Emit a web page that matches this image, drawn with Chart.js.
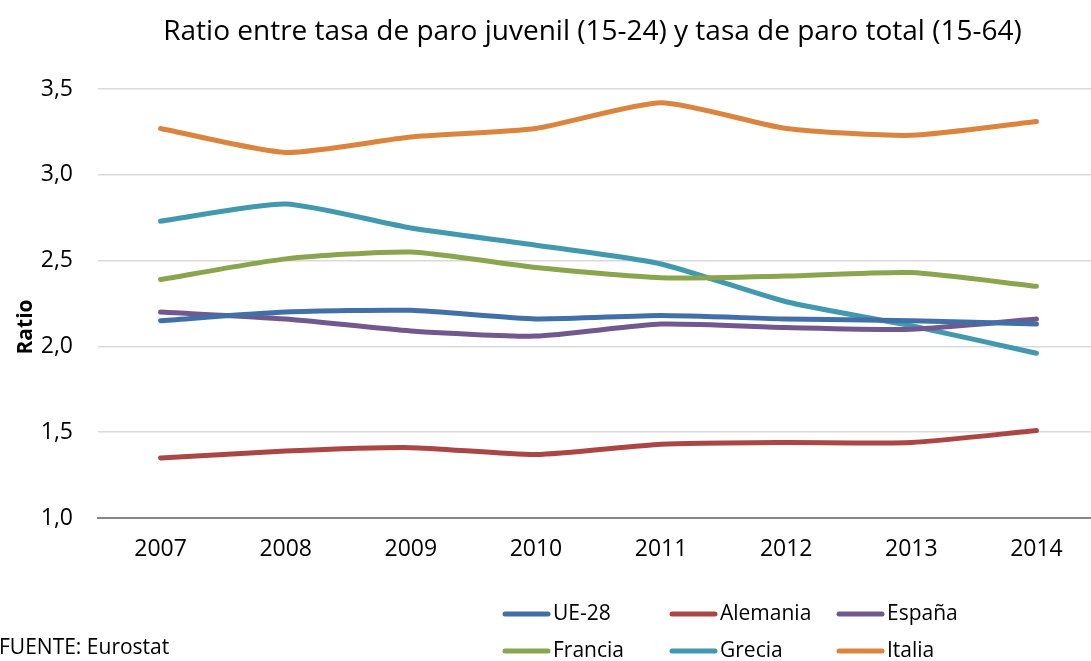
<!DOCTYPE html>
<html>
<head>
<meta charset="utf-8">
<script src="https://cdn.jsdelivr.net/npm/chart.js@4/dist/chart.umd.min.js"></script>
<style>
  html, body { margin: 0; padding: 0; background: #fff; overflow: hidden; }
  #wrap { position: absolute; left: 0; top: 0; width: 1100px; height: 661px; }
</style>
</head>
<body>
<div id="wrap"><canvas id="chart" width="1100" height="661"></canvas></div>
<script>
const years = ['2007', '2008', '2009', '2010', '2011', '2012', '2013', '2014'];
const ue28     = [2.15, 2.20, 2.21, 2.16, 2.18, 2.16, 2.15, 2.13];
const alemania = [1.35, 1.39, 1.41, 1.37, 1.43, 1.44, 1.44, 1.51];
const espana   = [2.20, 2.16, 2.09, 2.06, 2.13, 2.11, 2.10, 2.16];
const francia  = [2.39, 2.51, 2.55, 2.46, 2.40, 2.41, 2.43, 2.35];
const grecia   = [2.73, 2.83, 2.69, 2.59, 2.48, 2.26, 2.12, 1.96];
const italia   = [3.27, 3.13, 3.22, 3.27, 3.42, 3.27, 3.23, 3.31];

const titleText = 'Ratio entre tasa de paro juvenil (15-24) y tasa de paro total (15-64)';
const sourceText = 'FUENTE: Eurostat';
const font = "'Open Sans', sans-serif";

function line(label, data, color) {
    return {
        label: label, data: data, borderColor: color, backgroundColor: color,
        borderWidth: 5, pointRadius: 0, tension: 0.2,
        borderCapStyle: 'round', borderJoinStyle: 'round', fill: false
    };
}

// title, rotated y label, source note and 3-column legend
const extras = {
    id: 'extras',
    afterDraw(chart) {
        const ctx = chart.ctx;
        const area = chart.chartArea;
        ctx.save();
        ctx.fillStyle = '#000';
        ctx.textBaseline = 'middle';

        ctx.font = '28px ' + font;
        ctx.textAlign = 'center';
        ctx.fillText(titleText, (area.left + area.right) / 2 - 6, 32);

        ctx.save();
        ctx.translate(26, 327);
        ctx.rotate(-Math.PI / 2);
        ctx.font = 'bold 21px ' + font;
        ctx.fillText('Ratio', 0, 0);
        ctx.restore();

        ctx.textAlign = 'left';
        ctx.font = '21px ' + font;
        ctx.fillText(sourceText, -1, 648);

        ctx.font = '21px ' + font;
        const cols = [503, 670, 837];
        const rows = [614, 651];
        chart.data.datasets.forEach((ds, i) => {
            const x = cols[i % 3];
            const y = rows[Math.floor(i / 3)];
            ctx.strokeStyle = ds.borderColor;
            ctx.lineWidth = 5;
            ctx.lineCap = 'round';
            ctx.beginPath();
            ctx.moveTo(x + 2, y);
            ctx.lineTo(x + 45, y);
            ctx.stroke();
            ctx.fillText(ds.label, x + 50, y);
        });
        ctx.restore();
    }
};

new Chart(document.getElementById('chart'), {
    type: 'line',
    data: {
        labels: years,
        datasets: [
            line('UE-28', ue28, '#4170a8'),
            line('Alemania', alemania, '#aa4643'),
            line('España', espana, '#71588f'),
            line('Francia', francia, '#89a54e'),
            line('Grecia', grecia, '#4198af'),
            line('Italia', italia, '#db843d')
        ]
    },
    options: {
        responsive: false,
        animation: false,
        layout: { padding: { top: 89, right: 1, bottom: 0, left: 0 } },
        plugins: {
            legend: { display: false },
            title: { display: false },
            tooltip: { enabled: false }
        },
        scales: {
            x: {
                offset: true,
                grid: { display: false, drawTicks: false },
                border: { color: '#868686', width: 2 },
                ticks: { color: '#000', font: { family: font, size: 23 }, padding: 18 },
                afterFit(scale) { scale.height = 143; }
            },
            y: {
                min: 1, max: 3.5,
                grid: { color: '#d9d9d9', lineWidth: 1.5, drawTicks: false },
                border: { display: false },
                ticks: {
                    stepSize: 0.5, color: '#000', padding: 25,
                    font: { family: font, size: 23 },
                    callback: v => v.toFixed(1).replace('.', ',')
                },
                afterFit(scale) { scale.width = 98; }
            }
        }
    },
    plugins: [extras]
});
</script>
</body>
</html>
